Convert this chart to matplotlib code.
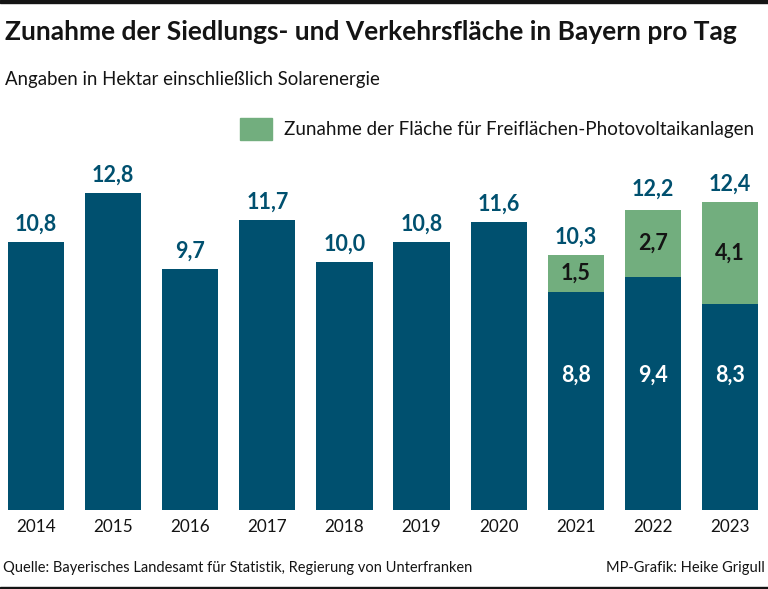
import matplotlib
matplotlib.use("Agg")
from matplotlib import pyplot as plt
from matplotlib.patches import Rectangle

years = ["2014", "2015", "2016", "2017", "2018", "2019", "2020", "2021", "2022", "2023"]
totals = [10.8, 12.8, 9.7, 11.7, 10.0, 10.8, 11.6, 10.3, 12.2, 12.4]
base = [10.8, 12.8, 9.7, 11.7, 10.0, 10.8, 11.6, 8.8, 9.4, 8.3]
solar = [0, 0, 0, 0, 0, 0, 0, 1.5, 2.7, 4.1]

blue = "#00506f"
green = "#72ae7e"
dark = "#141414"

plt.rcParams['font.family'] = ['Lato', 'DejaVu Sans']

W, H = 768, 589
fig = plt.figure(figsize=(W / 100, H / 100), dpi=100)

# axes placed in pixel units so bars land where they are in the original
ax = fig.add_axes([0, 79 / H, 1, 14 * 24.8 / H])
ax.set_xlim(-36 / 77.1, 9 + 38 / 77.1)
ax.set_ylim(0, 14)
ax.axis("off")

x = list(range(len(years)))
ax.bar(x, base, width=0.73, color=blue)
ax.bar(x, solar, bottom=base, width=0.73, color=green)

def fmt(v):
    return ("%.1f" % v).replace(".", ",")

for i in x:
    ax.text(i, totals[i] + 0.72, fmt(totals[i]), ha="center", va="center",
            fontsize=15.5, fontweight="bold", color=blue)
    if solar[i] > 0:
        ax.text(i, 5.45, fmt(base[i]), ha="center", va="center",
                fontsize=15.5, fontweight="bold", color="white")
        ax.text(i, base[i] + solar[i] / 2, fmt(solar[i]), ha="center", va="center",
                fontsize=15.5, fontweight="bold", color=dark)
    ax.text(i, -0.7, years[i], ha="center", va="center", fontsize=12.3, color=dark)

# header, legend, footer
fig.text(5 / W, 1 - 32 / H, "Zunahme der Siedlungs- und Verkehrsfläche in Bayern pro Tag",
         ha="left", va="center", fontsize=19, fontweight="bold", color=dark)
fig.text(5 / W, 1 - 80 / H, "Angaben in Hektar einschließlich Solarenergie",
         ha="left", va="center", fontsize=13.4, color=dark)
fig.patches.append(Rectangle((240 / W, 1 - 140 / H), 32 / W, 22 / H,
                             transform=fig.transFigure, color=green))
fig.text(284 / W, 1 - 130 / H, "Zunahme der Fläche für Freiflächen-Photovoltaikanlagen",
         ha="left", va="center", fontsize=13.5, color=dark)
fig.text(3 / W, 1 - 568 / H, "Quelle: Bayerisches Landesamt für Statistik, Regierung von Unterfranken",
         ha="left", va="center", fontsize=10.5, color=dark)
fig.text(765 / W, 1 - 568 / H, "MP-Grafik: Heike Grigull",
         ha="right", va="center", fontsize=10.5, color=dark)

# thin rules at the very top and bottom
fig.patches.append(Rectangle((0, 1 - 3 / H), 1, 3 / H, transform=fig.transFigure, color=dark))
fig.patches.append(Rectangle((0, 0), 1, 2 / H, transform=fig.transFigure, color=dark))

fig.savefig("out.png", dpi=100)
